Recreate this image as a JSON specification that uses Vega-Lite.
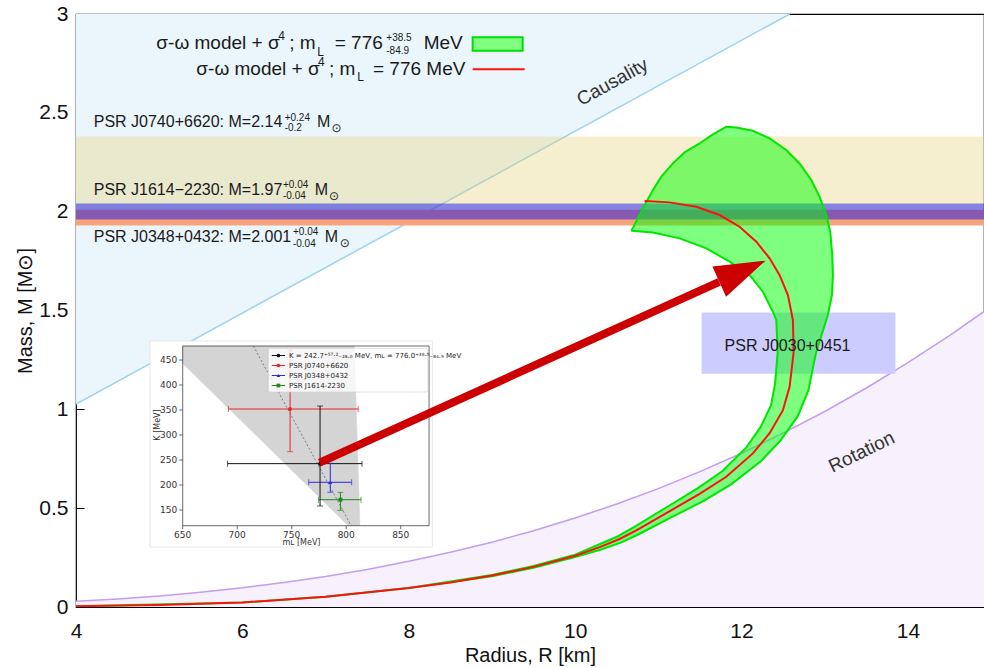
{
  "$schema": "https://vega.github.io/schema/vega-lite/v6.json",
  "width": 908,
  "height": 593,
  "autosize": {"type": "none"},
  "padding": {"left": 76, "top": 14, "right": 0, "bottom": 61},
  "background": "white",
  "config": {
    "view": {"stroke": "#000000", "strokeWidth": 1.2},
    "text": {"font": "Liberation Sans", "color": "#1a1a1a"}
  },
  "datasets": {
    "causality": [{"R": 4, "M": 1.027, "Mtop": 3}, {"R": 12.578, "M": 3, "Mtop": 3}],
    "rotation": [
      {"R": 4, "M": 0.029}, {"R": 4.5, "M": 0.041}, {"R": 5, "M": 0.056}, {"R": 5.5, "M": 0.075},
      {"R": 6, "M": 0.097}, {"R": 6.5, "M": 0.124}, {"R": 7, "M": 0.154}, {"R": 7.5, "M": 0.19},
      {"R": 8, "M": 0.231}, {"R": 8.5, "M": 0.277}, {"R": 9, "M": 0.328}, {"R": 9.5, "M": 0.386},
      {"R": 10, "M": 0.45}, {"R": 10.5, "M": 0.521}, {"R": 11, "M": 0.599}, {"R": 11.5, "M": 0.685},
      {"R": 12, "M": 0.778}, {"R": 12.5, "M": 0.88}, {"R": 13, "M": 0.989}, {"R": 13.5, "M": 1.108},
      {"R": 14, "M": 1.236}, {"R": 14.5, "M": 1.373}, {"R": 15, "M": 1.52}
    ],
    "bands": [
      {"psr": "J0740+6620", "M": 2.14, "lo": 1.94, "hi": 2.38},
      {"psr": "J1614-2230", "M": 1.97, "lo": 1.93, "hi": 2.01},
      {"psr": "J0348+0432", "M": 2.001, "lo": 1.961, "hi": 2.041}
    ],
    "nicer": [{"psr": "J0030+0451", "Rlo": 11.52, "Rhi": 13.85, "lo": 1.18, "hi": 1.49}],
    "green": [
      {"i": 0, "R": 10.675, "M": 1.903}, {"i": 1, "R": 10.835, "M": 2.033}, {"i": 2, "R": 10.935, "M": 2.109},
      {"i": 3, "R": 11.036, "M": 2.177}, {"i": 4, "R": 11.175, "M": 2.244}, {"i": 5, "R": 11.316, "M": 2.3},
      {"i": 6, "R": 11.496, "M": 2.345}, {"i": 7, "R": 11.656, "M": 2.391}, {"i": 8, "R": 11.817, "M": 2.429},
      {"i": 9, "R": 11.937, "M": 2.426}, {"i": 10, "R": 12.137, "M": 2.409}, {"i": 11, "R": 12.338, "M": 2.371},
      {"i": 12, "R": 12.538, "M": 2.312}, {"i": 13, "R": 12.698, "M": 2.244}, {"i": 14, "R": 12.839, "M": 2.16},
      {"i": 15, "R": 12.939, "M": 2.075}, {"i": 16, "R": 13.019, "M": 1.983}, {"i": 17, "R": 13.067, "M": 1.898},
      {"i": 18, "R": 13.091, "M": 1.78}, {"i": 19, "R": 13.099, "M": 1.679}, {"i": 20, "R": 13.087, "M": 1.578},
      {"i": 21, "R": 13.038, "M": 1.477}, {"i": 22, "R": 12.963, "M": 1.376}, {"i": 23, "R": 12.892, "M": 1.28},
      {"i": 24, "R": 12.804, "M": 1.096}, {"i": 25, "R": 12.675, "M": 0.964}, {"i": 26, "R": 12.468, "M": 0.842},
      {"i": 27, "R": 12.232, "M": 0.737}, {"i": 28, "R": 11.884, "M": 0.623}, {"i": 29, "R": 11.546, "M": 0.537},
      {"i": 30, "R": 11.131, "M": 0.448}, {"i": 31, "R": 10.764, "M": 0.368}, {"i": 32, "R": 10.556, "M": 0.327},
      {"i": 33, "R": 10.312, "M": 0.291}, {"i": 34, "R": 10, "M": 0.253}, {"i": 35, "R": 9.5, "M": 0.199},
      {"i": 36, "R": 9, "M": 0.156}, {"i": 37, "R": 8, "M": 0.096}, {"i": 38, "R": 7, "M": 0.052}, {"i": 39, "R": 6, "M": 0.023},
      {"i": 40, "R": 4, "M": 0.004}, {"i": 41, "R": 4, "M": 0.004}, {"i": 42, "R": 6, "M": 0.023}, {"i": 43, "R": 7, "M": 0.052},
      {"i": 44, "R": 8, "M": 0.096}, {"i": 45, "R": 9, "M": 0.162}, {"i": 46, "R": 9.5, "M": 0.207},
      {"i": 47, "R": 10, "M": 0.265}, {"i": 48, "R": 10.279, "M": 0.315}, {"i": 49, "R": 10.516, "M": 0.358},
      {"i": 50, "R": 10.713, "M": 0.405}, {"i": 51, "R": 11.07, "M": 0.497}, {"i": 52, "R": 11.462, "M": 0.598},
      {"i": 53, "R": 11.768, "M": 0.687}, {"i": 54, "R": 12.061, "M": 0.809}, {"i": 55, "R": 12.231, "M": 0.911},
      {"i": 56, "R": 12.356, "M": 1.022}, {"i": 57, "R": 12.403, "M": 1.128}, {"i": 58, "R": 12.435, "M": 1.289},
      {"i": 59, "R": 12.418, "M": 1.452}, {"i": 60, "R": 12.377, "M": 1.494}, {"i": 61, "R": 12.257, "M": 1.595},
      {"i": 62, "R": 12.097, "M": 1.679}, {"i": 63, "R": 11.857, "M": 1.747}, {"i": 64, "R": 11.577, "M": 1.814},
      {"i": 65, "R": 11.256, "M": 1.865}, {"i": 66, "R": 10.935, "M": 1.895}, {"i": 67, "R": 10.675, "M": 1.903}
    ],
    "red": [
      {"i": 0, "R": 4, "M": 0.004}, {"i": 1, "R": 5, "M": 0.01}, {"i": 2, "R": 6, "M": 0.023},
      {"i": 3, "R": 7, "M": 0.052}, {"i": 4, "R": 8, "M": 0.096}, {"i": 5, "R": 8.5, "M": 0.124},
      {"i": 6, "R": 9, "M": 0.159}, {"i": 7, "R": 9.5, "M": 0.203}, {"i": 8, "R": 10, "M": 0.259},
      {"i": 9, "R": 10.295, "M": 0.303}, {"i": 10, "R": 10.535, "M": 0.344}, {"i": 11, "R": 10.736, "M": 0.388},
      {"i": 12, "R": 11.096, "M": 0.475}, {"i": 13, "R": 11.496, "M": 0.572}, {"i": 14, "R": 11.817, "M": 0.659},
      {"i": 15, "R": 12.137, "M": 0.777}, {"i": 16, "R": 12.338, "M": 0.879}, {"i": 17, "R": 12.498, "M": 0.996},
      {"i": 18, "R": 12.578, "M": 1.114}, {"i": 19, "R": 12.626, "M": 1.285}, {"i": 20, "R": 12.618, "M": 1.452},
      {"i": 21, "R": 12.558, "M": 1.578}, {"i": 22, "R": 12.458, "M": 1.679}, {"i": 23, "R": 12.338, "M": 1.764},
      {"i": 24, "R": 12.178, "M": 1.848}, {"i": 25, "R": 11.977, "M": 1.924}, {"i": 26, "R": 11.737, "M": 1.983},
      {"i": 27, "R": 11.457, "M": 2.025}, {"i": 28, "R": 11.136, "M": 2.047}, {"i": 29, "R": 10.835, "M": 2.054}
    ],
    "legendText": [
      {"t": "σ-ω model + σ", "R": 4.966, "M": 2.821}, {"t": "; m", "R": 6.5625, "M": 2.821},
      {"t": "= 776", "R": 7.11, "M": 2.821}, {"t": "MeV", "R": 8.18, "M": 2.821},
      {"t": "σ-ω model + σ", "R": 5.447, "M": 2.691}, {"t": "; m", "R": 7.04, "M": 2.691},
      {"t": "= 776 MeV", "R": 7.57, "M": 2.691}
    ],
    "legendSmall": [
      {"t": "4", "R": 6.43, "M": 2.866}, {"t": "L", "R": 6.9, "M": 2.79},
      {"t": "4", "R": 6.91, "M": 2.736}, {"t": "L", "R": 7.38, "M": 2.66}
    ],
    "legendTiny": [{"t": "+38.5", "R": 7.73, "M": 2.862}, {"t": "-84.9", "R": 7.73, "M": 2.8}],
    "psrText": [
      {"t": "PSR J0740+6620: M=2.14", "R": 4.213, "M": 2.429},
      {"t": "PSR J1614−2230: M=1.97", "R": 4.213, "M": 2.084},
      {"t": "PSR J0348+0432: M=2.001", "R": 4.213, "M": 1.848},
      {"t": "M", "R": 6.897, "M": 2.429}, {"t": "M", "R": 6.869, "M": 2.084}, {"t": "M", "R": 6.99, "M": 1.848},
      {"t": "PSR J0030+0451", "R": 11.797, "M": 1.296}
    ],
    "psrSmall": [
      {"t": "+0.24", "R": 6.508, "M": 2.46}, {"t": "-0.2", "R": 6.508, "M": 2.408},
      {"t": "+0.04", "R": 6.488, "M": 2.118}, {"t": "-0.04", "R": 6.488, "M": 2.062},
      {"t": "+0.04", "R": 6.608, "M": 1.882}, {"t": "-0.04", "R": 6.608, "M": 1.822}
    ],
    "sun": [{"t": "⊙", "R": 7.07, "M": 2.401}, {"t": "⊙", "R": 7.041, "M": 2.059}, {"t": "⊙", "R": 7.17, "M": 1.821}],
    "insetShade": [
      {"i": 0, "mL": 650, "K": 478}, {"i": 1, "mL": 807.4, "K": 478}, {"i": 2, "mL": 812.6, "K": 118.6},
      {"i": 3, "mL": 801.9, "K": 118.6}, {"i": 4, "mL": 650, "K": 443}, {"i": 5, "mL": 650, "K": 478}
    ],
    "insetFitLine": [{"mL": 714.8, "K": 478}, {"mL": 804.6, "K": 118.6}],
    "errbars": [
      {"name": "fit", "mL": 776.0, "K": 242.7, "mLlo": 691.1, "mLhi": 814.5, "Klo": 158, "Khi": 358},
      {"name": "J0740", "mL": 748.5, "K": 352, "mLlo": 692, "mLhi": 811, "Klo": 266.7, "Khi": 470},
      {"name": "J0348", "mL": 785.4, "K": 205.4, "mLlo": 765.6, "mLhi": 805, "Klo": 185.3, "Khi": 243.3},
      {"name": "J1614", "mL": 794.7, "K": 170.6, "mLlo": 774.5, "mLhi": 813.6, "Klo": 149.3, "Khi": 185.3}
    ],
    "insetLegend": [
      {"name": "fit", "label": "K = 242.7⁺⁵⁷·²₋₂₈.₀ MeV, mʟ = 776.0⁺³⁸·⁵₋₈₄.₉ MeV", "K": 459, "x0": 731.7, "x1": 743.9, "xm": 737.8, "xt": 747.5},
      {"name": "J0740", "label": "PSR J0740+6620", "K": 439, "x0": 731.7, "x1": 743.9, "xm": 737.8, "xt": 747.5},
      {"name": "J0348", "label": "PSR J0348+0432", "K": 419, "x0": 731.7, "x1": 743.9, "xm": 737.8, "xt": 747.5},
      {"name": "J1614", "label": "PSR J1614-2230", "K": 399, "x0": 731.7, "x1": 743.9, "xm": 737.8, "xt": 747.5}
    ],
    "insetXTicks": [
      {"t": 650, "k0": 118.6, "k1": 111.6, "kl": 101}, {"t": 700, "k0": 118.6, "k1": 111.6, "kl": 101},
      {"t": 750, "k0": 118.6, "k1": 111.6, "kl": 101}, {"t": 800, "k0": 118.6, "k1": 111.6, "kl": 101},
      {"t": 850, "k0": 118.6, "k1": 111.6, "kl": 101}
    ],
    "insetYTicks": [
      {"t": 150, "m0": 650, "m1": 646.8, "ml": 645}, {"t": 200, "m0": 650, "m1": 646.8, "ml": 645},
      {"t": 250, "m0": 650, "m1": 646.8, "ml": 645}, {"t": 300, "m0": 650, "m1": 646.8, "ml": 645},
      {"t": 350, "m0": 650, "m1": 646.8, "ml": 645}, {"t": 400, "m0": 650, "m1": 646.8, "ml": 645},
      {"t": 450, "m0": 650, "m1": 646.8, "ml": 645}
    ],
    "arrow": [{"R": 6.929, "M": 0.73, "R2": 11.733, "M2": 1.645}],
    "arrowHead": [{"R": 12.011, "M": 1.699}]
  },
  "resolve": {"scale": {"x": "independent", "y": "independent"}},
  "layer": [
    {
      "encoding": {
        "x": {
          "field": "R", "type": "quantitative",
          "scale": {"domain": [4, 14.915], "nice": false, "zero": false},
          "axis": {
            "values": [4, 6, 8, 10, 12, 14], "title": "Radius, R [km]", "grid": false, "domain": false,
            "tickSize": -8, "tickColor": "#000000", "labelPadding": 21, "labelFlush": false,
            "labelFont": "Liberation Sans", "labelFontSize": 21, "labelColor": "#111111",
            "titleFont": "Liberation Sans", "titleFontSize": 20, "titleFontWeight": "normal",
            "titleColor": "#111111", "titlePadding": 4
          }
        },
        "y": {
          "field": "M", "type": "quantitative",
          "scale": {"domain": [0, 3], "nice": false, "zero": false},
          "axis": {
            "values": [0, 0.5, 1, 1.5, 2, 2.5, 3], "labelExpr": "'' + datum.value", "title": "Mass, M [M⊙]",
            "grid": false, "domain": false, "tickSize": -8, "tickColor": "#000000", "labelPadding": 16, "labelFlush": false,
            "labelFont": "Liberation Sans", "labelFontSize": 21, "labelColor": "#111111",
            "titleFont": "Liberation Sans", "titleFontSize": 20, "titleFontWeight": "normal",
            "titleColor": "#111111", "titlePadding": 3
          }
        }
      },
      "layer": [
        {"data": {"name": "causality"}, "mark": {"type": "area", "color": "#eaf6fc", "clip": true}, "encoding": {"y2": {"field": "Mtop"}}},
        {"data": {"name": "rotation"}, "mark": {"type": "area", "color": "#f7f1fd", "clip": true}, "encoding": {}},
        {"data": {"name": "causality"}, "mark": {"type": "line", "color": "#9ad3ee", "strokeWidth": 1.5, "clip": true}, "encoding": {}},
        {"data": {"name": "rotation"}, "mark": {"type": "line", "color": "#c39cf3", "strokeWidth": 1.5, "clip": true}, "encoding": {}},
        {
          "data": {"name": "bands"}, "transform": [{"filter": "datum.psr == 'J0740+6620'"}],
          "mark": {"type": "rect", "color": "#e6d37a", "opacity": 0.36},
          "encoding": {"x": {"value": 0}, "x2": {"value": "width"}, "y": {"field": "lo", "type": "quantitative"}, "y2": {"field": "hi"}}
        },
        {
          "data": {"name": "bands"}, "transform": [{"filter": "datum.psr == 'J1614-2230'"}],
          "mark": {"type": "rect", "color": "#f5a47c"},
          "encoding": {"x": {"value": 0}, "x2": {"value": "width"}, "y": {"field": "lo", "type": "quantitative"}, "y2": {"field": "hi"}}
        },
        {
          "data": {"name": "bands"}, "transform": [{"filter": "datum.psr == 'J0348+0432'"}],
          "mark": {"type": "rect", "color": "#0000f5", "opacity": 0.45},
          "encoding": {"x": {"value": 0}, "x2": {"value": "width"}, "y": {"field": "lo", "type": "quantitative"}, "y2": {"field": "hi"}}
        },
        {
          "data": {"name": "nicer"}, "mark": {"type": "rect", "color": "#ccccff"},
          "encoding": {"x": {"field": "Rlo", "type": "quantitative"}, "x2": {"field": "Rhi"}, "y": {"field": "lo", "type": "quantitative"}, "y2": {"field": "hi"}}
        },
        {
          "data": {"name": "green"},
          "mark": {"type": "line", "stroke": "#00e600", "strokeWidth": 2, "fill": "#00ff00", "fillOpacity": 0.5, "clip": true},
          "encoding": {"order": {"field": "i", "type": "quantitative"}}
        },
        {
          "data": {"name": "red"},
          "mark": {"type": "line", "color": "#ff1010", "strokeWidth": 2, "clip": true},
          "encoding": {"order": {"field": "i", "type": "quantitative"}}
        },
        {
          "data": {"values": [{"r0": 8.768, "r1": 9.369, "m0": 2.814, "m1": 2.882}]},
          "mark": {"type": "rect", "fill": "#80ff80", "stroke": "#00dd00", "strokeWidth": 2},
          "encoding": {"x": {"field": "r0", "type": "quantitative"}, "x2": {"field": "r1"}, "y": {"field": "m0", "type": "quantitative"}, "y2": {"field": "m1"}}
        },
        {
          "data": {"values": [{"r0": 8.768, "r1": 9.393, "m0": 2.72}]},
          "mark": {"type": "rule", "color": "#ff1010", "strokeWidth": 2},
          "encoding": {"x": {"field": "r0", "type": "quantitative"}, "x2": {"field": "r1"}, "y": {"field": "m0", "type": "quantitative"}}
        },
        {"data": {"name": "legendText"}, "mark": {"type": "text", "fontSize": 19, "align": "left", "baseline": "alphabetic"}, "encoding": {"text": {"field": "t"}}},
        {"data": {"name": "legendSmall"}, "mark": {"type": "text", "fontSize": 12, "align": "left", "baseline": "alphabetic"}, "encoding": {"text": {"field": "t"}}},
        {"data": {"name": "legendTiny"}, "mark": {"type": "text", "fontSize": 10, "align": "left", "baseline": "alphabetic"}, "encoding": {"text": {"field": "t"}}},
        {"data": {"name": "psrText"}, "mark": {"type": "text", "fontSize": 16, "align": "left", "baseline": "alphabetic"}, "encoding": {"text": {"field": "t"}}},
        {"data": {"name": "psrSmall"}, "mark": {"type": "text", "fontSize": 10, "align": "left", "baseline": "alphabetic"}, "encoding": {"text": {"field": "t"}}},
        {"data": {"name": "sun"}, "mark": {"type": "text", "fontSize": 12, "align": "left", "baseline": "alphabetic", "font": "DejaVu Sans"}, "encoding": {"text": {"field": "t"}}},
        {
          "data": {"values": [{"t": "Causality", "R": 10.45, "M": 2.656}]},
          "mark": {"type": "text", "fontSize": 19, "angle": 331, "align": "center", "baseline": "middle", "color": "#333333"},
          "encoding": {"text": {"field": "t"}}
        },
        {
          "data": {"values": [{"t": "Rotation", "R": 13.444, "M": 0.784}]},
          "mark": {"type": "text", "fontSize": 19, "angle": 334, "align": "center", "baseline": "middle", "color": "#333333"},
          "encoding": {"text": {"field": "t"}}
        }
      ]
    },
    {
      "encoding": {
        "x": {"field": "mL", "type": "quantitative", "scale": {"domain": [552.1, 1385.1], "nice": false, "zero": false}, "axis": null},
        "y": {"field": "K", "type": "quantitative", "scale": {"domain": [-44, 1142], "nice": false, "zero": false}, "axis": null}
      },
      "layer": [
        {
          "data": {"values": [{"x1": 620, "x2": 879, "y1": 76, "y2": 488}]},
          "mark": {"type": "rect", "fill": "#ffffff", "stroke": "#e2e2e2", "strokeWidth": 0.8},
          "encoding": {"x": {"field": "x1", "type": "quantitative"}, "x2": {"field": "x2"}, "y": {"field": "y1", "type": "quantitative"}, "y2": {"field": "y2"}}
        },
        {
          "data": {"name": "insetShade"},
          "mark": {"type": "line", "fill": "#d4d4d4", "stroke": "#d4d4d4", "strokeWidth": 0.5},
          "encoding": {"order": {"field": "i", "type": "quantitative"}}
        },
        {
          "data": {"name": "insetFitLine"},
          "mark": {"type": "line", "color": "#666666", "strokeWidth": 0.8, "strokeDash": [2, 2]},
          "encoding": {}
        },
        {
          "data": {"values": [{"x1": 650, "x2": 876, "y1": 118.6, "y2": 478}]},
          "mark": {"type": "rect", "fillOpacity": 0, "fill": "#ffffff", "stroke": "#444444", "strokeWidth": 0.8},
          "encoding": {"x": {"field": "x1", "type": "quantitative"}, "x2": {"field": "x2"}, "y": {"field": "y1", "type": "quantitative"}, "y2": {"field": "y2"}}
        },
        {
          "data": {"name": "errbars"},
          "encoding": {
            "color": {"field": "name", "type": "nominal", "scale": {"domain": ["fit", "J0740", "J0348", "J1614"], "range": ["#111111", "#e8262a", "#2a2ae8", "#1e8a1e"]}, "legend": null}
          },
          "layer": [
            {"mark": {"type": "rule", "strokeWidth": 1}, "encoding": {"x": {"field": "mLlo", "type": "quantitative"}, "x2": {"field": "mLhi"}}},
            {"mark": {"type": "rule", "strokeWidth": 1}, "encoding": {"y": {"field": "Klo", "type": "quantitative"}, "y2": {"field": "Khi"}}},
            {"mark": {"type": "tick", "orient": "vertical", "size": 6, "thickness": 1}, "encoding": {"x": {"field": "mLlo", "type": "quantitative"}}},
            {"mark": {"type": "tick", "orient": "vertical", "size": 6, "thickness": 1}, "encoding": {"x": {"field": "mLhi", "type": "quantitative"}}},
            {"mark": {"type": "tick", "orient": "horizontal", "size": 6, "thickness": 1}, "encoding": {"y": {"field": "Klo", "type": "quantitative"}}},
            {"mark": {"type": "tick", "orient": "horizontal", "size": 6, "thickness": 1}, "encoding": {"y": {"field": "Khi", "type": "quantitative"}}},
            {
              "mark": {"type": "point", "filled": true, "size": 16, "opacity": 1},
              "encoding": {"shape": {"field": "name", "type": "nominal", "scale": {"domain": ["fit", "J0740", "J0348", "J1614"], "range": ["circle", "circle", "triangle-up", "square"]}, "legend": null}}
            }
          ]
        },
        {
          "data": {"values": [{"x1": 728.5, "x2": 875, "y1": 386, "y2": 473.4}]},
          "mark": {"type": "rect", "fill": "#ffffff", "fillOpacity": 0.8, "stroke": "#cccccc", "strokeWidth": 0.6, "cornerRadius": 2},
          "encoding": {"x": {"field": "x1", "type": "quantitative"}, "x2": {"field": "x2"}, "y": {"field": "y1", "type": "quantitative"}, "y2": {"field": "y2"}}
        },
        {
          "data": {"name": "insetLegend"},
          "encoding": {
            "color": {"field": "name", "type": "nominal", "scale": {"domain": ["fit", "J0740", "J0348", "J1614"], "range": ["#111111", "#e8262a", "#2a2ae8", "#1e8a1e"]}, "legend": null}
          },
          "layer": [
            {"mark": {"type": "rule", "strokeWidth": 1}, "encoding": {"x": {"field": "x0", "type": "quantitative"}, "x2": {"field": "x1"}}},
            {
              "mark": {"type": "point", "filled": true, "size": 14, "opacity": 1},
              "encoding": {"x": {"field": "xm", "type": "quantitative"}, "shape": {"field": "name", "type": "nominal", "scale": {"domain": ["fit", "J0740", "J0348", "J1614"], "range": ["circle", "circle", "triangle-up", "square"]}, "legend": null}}
            },
            {
              "mark": {"type": "text", "font": "DejaVu Sans", "fontSize": 7, "align": "left", "baseline": "middle"},
              "encoding": {"x": {"field": "xt", "type": "quantitative"}, "text": {"field": "label"}, "color": {"value": "#222222"}}
            }
          ]
        },
        {
          "data": {"name": "insetXTicks"},
          "layer": [
            {"mark": {"type": "rule", "color": "#444444", "strokeWidth": 0.8}, "encoding": {"x": {"field": "t", "type": "quantitative"}, "y": {"field": "k0", "type": "quantitative"}, "y2": {"field": "k1"}}},
            {
              "mark": {"type": "text", "font": "DejaVu Sans", "fontSize": 9, "align": "center", "baseline": "middle", "color": "#333333"},
              "encoding": {"x": {"field": "t", "type": "quantitative"}, "y": {"field": "kl", "type": "quantitative"}, "text": {"field": "t"}}
            }
          ]
        },
        {
          "data": {"name": "insetYTicks"},
          "layer": [
            {"mark": {"type": "rule", "color": "#444444", "strokeWidth": 0.8}, "encoding": {"y": {"field": "t", "type": "quantitative"}, "x": {"field": "m0", "type": "quantitative"}, "x2": {"field": "m1"}}},
            {
              "mark": {"type": "text", "font": "DejaVu Sans", "fontSize": 9, "align": "right", "baseline": "middle", "color": "#333333"},
              "encoding": {"y": {"field": "t", "type": "quantitative"}, "x": {"field": "ml", "type": "quantitative"}, "text": {"field": "t"}}
            }
          ]
        },
        {
          "data": {"values": [{"t": "mʟ [MeV]", "mL": 759, "K": 84}]},
          "mark": {"type": "text", "font": "DejaVu Sans", "fontSize": 8, "align": "center", "baseline": "middle", "color": "#333333"},
          "encoding": {"text": {"field": "t"}}
        },
        {
          "data": {"values": [{"t": "K [MeV]", "mL": 627, "K": 320}]},
          "mark": {"type": "text", "font": "DejaVu Sans", "fontSize": 8, "align": "center", "baseline": "middle", "angle": 270, "color": "#333333"},
          "encoding": {"text": {"field": "t"}}
        }
      ]
    },
    {
      "encoding": {
        "x": {"field": "R", "type": "quantitative", "scale": {"domain": [4, 14.915], "nice": false, "zero": false}, "axis": null},
        "y": {"field": "M", "type": "quantitative", "scale": {"domain": [0, 3], "nice": false, "zero": false}, "axis": null}
      },
      "layer": [
        {
          "data": {"name": "arrow"},
          "mark": {"type": "rule", "color": "#cc0000", "strokeWidth": 8, "strokeCap": "butt"},
          "encoding": {"x2": {"field": "R2"}, "y2": {"field": "M2"}}
        },
        {
          "data": {"name": "arrowHead"},
          "mark": {"type": "point", "shape": "M0,-1L0.65,1L-0.65,1Z", "size": 2590, "angle": 65.6, "filled": true, "color": "#cc0000", "opacity": 1},
          "encoding": {}
        }
      ]
    }
  ]
}
